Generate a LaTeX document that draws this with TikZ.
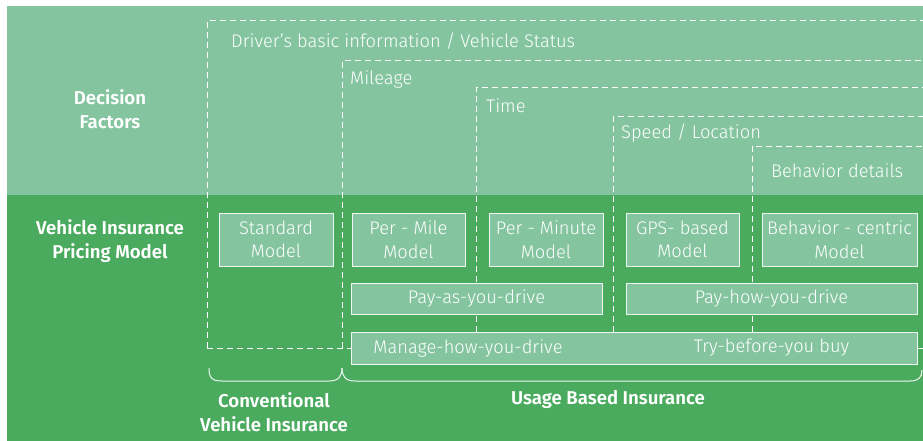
\documentclass[tikz,border=0pt]{standalone}
\usepackage{fontspec}
\setmainfont{Fira Sans Light}[BoldFont={Fira Sans SemiBold}]
\usepackage{tikz}
\usetikzlibrary{positioning}
\definecolor{factorbg}{HTML}{84C5A0}
\definecolor{modelbg}{HTML}{4AAA5E}
\definecolor{boxline}{HTML}{EEF7F1}

\tikzset{
  model/.style={draw=boxline,line width=1pt,fill=factorbg,text=white,inner sep=0pt,
    align=center,font=\fontsize{18.3}{23.5}\selectfont},
  factor/.style={dash pattern=on 6pt off 4pt,draw=white,line width=1pt},
  factorlabel/.style={anchor=base west,text=white,inner sep=0pt,font=\fontsize{18.3}{22}\selectfont},
  rowlabel/.style={text=white,inner sep=0pt,align=center,font=\fontsize{18.6}{23.5}\selectfont\bfseries},
  bracket/.style={draw=boxline,line width=1pt}
}

\begin{document}
\begin{tikzpicture}[x=1pt,y=-1pt]
  \useasboundingbox (0,0) rectangle (923,441);
  % two bands
  \fill[factorbg] (7,6) rectangle (923,195);
  \fill[modelbg] (7,195) rectangle (923,441);

  % nested decision factors
  \draw[factor] (207,348) -- (207,21) -- (923,21);
  \draw[factor] (207,348) -- (923,348);
  \draw[factor] (342,348) -- (342,61) -- (923,61);
  \foreach \x/\y in {476/88, 613/117, 752/146} {
    \draw[factor] (\x,332) -- (\x,\y) -- (923,\y);
  }
  \node[factorlabel] (driver) at (231,48) {Driver’s basic information / Vehicle Status};
  \node[factorlabel] (mileage) at (350,85) {Mileage};
  \node[factorlabel] (time) at (486,113) {Time};
  \node[factorlabel] (speed) at (621,139) {Speed / Location};
  \node[factorlabel] (behavior) at (771,177) {Behavior details};

  % row titles
  \node[rowlabel] (decision) at (110,109) {Decision\\Factors};
  \node[rowlabel] (pricing) at (110,241) {Vehicle Insurance\\Pricing Model};

  % pricing models
  \node[model,minimum width=114pt,minimum height=53pt] (standard) at (276,239.5) {Standard\\Model};
  \node[model,minimum width=113pt,minimum height=53pt] (permile) at (408.5,239.5) {Per - Mile\\Model};
  \node[model,minimum width=114pt,minimum height=53pt] (perminute) at (546,239.5) {Per - Minute\\Model};
  \node[model,minimum width=113pt,minimum height=53pt] (gps) at (682.5,239.5) {GPS- based\\Model};
  \node[model,minimum width=155pt,minimum height=53pt] (centric) at (839.5,239.5) {Behavior - centric\\Model};
  \node[model,minimum width=251pt,minimum height=31pt] (payas) at (476.5,298.5) {Pay-as-you-drive};
  \node[model,minimum width=291pt,minimum height=31pt] (payhow) at (771.5,298.5) {Pay-how-you-drive};
  \node[model,minimum width=566pt,minimum height=32pt] (manage) at (634,348) {};
  \node[model,draw=none,fill=none] (managetext) at (468,348) {Manage-how-you-drive};
  \node[model,draw=none,fill=none] (trytext) at (771.5,348) {Try-before-you buy};

  % brackets
  \draw[bracket] (209,368) .. controls (209,378) and (212,381) .. (222,381) -- (329,381)
    .. controls (339,381) and (342,376) .. (342,368);
  \draw[bracket] (342,368) .. controls (342,376) and (345,381) .. (355,381) -- (910,381)
    .. controls (919,381) and (922,377) .. (922,370);
  \node[rowlabel] (conventional) at (274,412) {Conventional\\Vehicle Insurance};
  \node[rowlabel] (ubi) at (608,400) {Usage Based Insurance};
\end{tikzpicture}
\end{document}
